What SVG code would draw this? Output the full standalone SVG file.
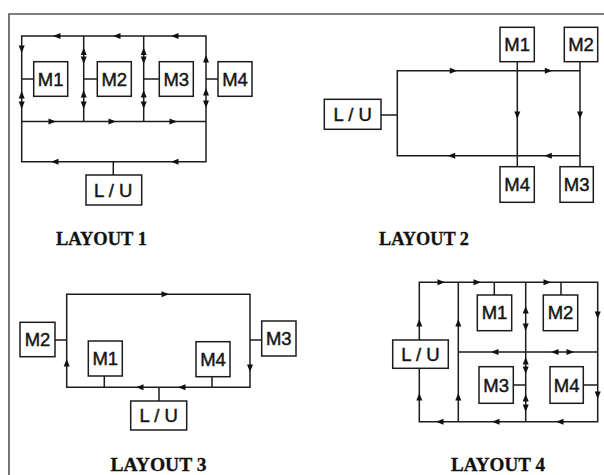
<svg xmlns="http://www.w3.org/2000/svg" xmlns:xlink="http://www.w3.org/1999/xlink" width="604" height="475" viewBox="0 0 604 475">
<style>
.ln{fill:none;stroke:#1c1c1c;stroke-width:1.5}
.bx{fill:#fff;stroke:#1c1c1c;stroke-width:1.5}
.t{font-family:"Liberation Sans",Arial,sans-serif;font-size:18.5px;fill:#151515;stroke:#151515;stroke-width:0.45;text-anchor:middle}
.cap{font-family:"Liberation Serif","Times New Roman",serif;font-size:19.5px;font-weight:bold;fill:#111;stroke:#111;stroke-width:0.3;text-anchor:middle}
.ar{fill:#111}
</style>
<defs>
<path id="a" d="M4,0 L-3.5,-3 L-3.5,3 Z"/>
</defs>
<rect width="604" height="475" fill="#fff"/>
<path d="M9,475 V14 H604" fill="none" stroke="#555" stroke-width="1.6"/>

<!-- LAYOUT 1 -->
<g id="connectors1">
<path class="ln" d="M21.7,36 H206 V161.7 H21.7 Z M21.7,121.5 H206 M83.7,36 V121.5 M143.7,36 V121.5 M21.7,79 H33.7 M83.7,79 H97.3 M143.7,79 H159.3 M206,79 H218 M113.3,161.7 V175"/>
<g class="ar">
<use xlink:href="#a" transform="translate(57,36) rotate(180)"/>
<use xlink:href="#a" transform="translate(117,36) rotate(180)"/>
<use xlink:href="#a" transform="translate(175,36) rotate(180)"/>
<use xlink:href="#a" transform="translate(52,121.5)"/>
<use xlink:href="#a" transform="translate(112,121.5)"/>
<use xlink:href="#a" transform="translate(173,121.5)"/>
<use xlink:href="#a" transform="translate(55,161.7) rotate(180)"/>
<use xlink:href="#a" transform="translate(175,161.7) rotate(180)"/>
<use xlink:href="#a" transform="translate(21.7,49) rotate(90)"/>
<use xlink:href="#a" transform="translate(21.7,95) rotate(-90)"/>
<use xlink:href="#a" transform="translate(21.7,105) rotate(90)"/>
<use xlink:href="#a" transform="translate(83.7,51.5) rotate(-90)"/>
<use xlink:href="#a" transform="translate(83.7,60) rotate(90)"/>
<use xlink:href="#a" transform="translate(83.7,94) rotate(-90)"/>
<use xlink:href="#a" transform="translate(83.7,105) rotate(90)"/>
<use xlink:href="#a" transform="translate(143.7,51.5) rotate(-90)"/>
<use xlink:href="#a" transform="translate(143.7,60) rotate(90)"/>
<use xlink:href="#a" transform="translate(143.7,94) rotate(-90)"/>
<use xlink:href="#a" transform="translate(143.7,105) rotate(90)"/>
<use xlink:href="#a" transform="translate(206,59) rotate(-90)"/>
<use xlink:href="#a" transform="translate(206,92) rotate(-90)"/>
<use xlink:href="#a" transform="translate(206,104) rotate(90)"/>
</g>
</g>
<g id="l1-m1"><rect class="bx" x="33.7" y="61.7" width="34" height="34.6"/><text class="t" x="50.7" y="85.6">M1</text></g>
<g id="l1-m2"><rect class="bx" x="97.3" y="61.7" width="34" height="34.6"/><text class="t" x="114.3" y="85.6">M2</text></g>
<g id="l1-m3"><rect class="bx" x="159.3" y="61.7" width="34" height="34.6"/><text class="t" x="176.3" y="85.6">M3</text></g>
<g id="l1-m4"><rect class="bx" x="218" y="61.7" width="34" height="34.6"/><text class="t" x="235" y="85.6">M4</text></g>
<g id="l1-lu"><rect class="bx" x="86" y="175" width="55.7" height="30"/><text class="t" x="113.3" y="196.6">L / U</text></g>
<text class="cap" x="101.5" y="245" textLength="91" lengthAdjust="spacingAndGlyphs">LAYOUT 1</text>

<!-- LAYOUT 2 -->
<g id="connectors2">
<path class="ln" d="M580,70.7 H397.3 V155.7 H580 M381,115 H397.3 M517.3,61.7 V166.7 M580,61.7 V166.7"/>
<g class="ar">
<use xlink:href="#a" transform="translate(453.3,70.7)"/>
<use xlink:href="#a" transform="translate(548.3,70.7)"/>
<use xlink:href="#a" transform="translate(451.7,155.7) rotate(180)"/>
<use xlink:href="#a" transform="translate(548.3,155.7) rotate(180)"/>
<use xlink:href="#a" transform="translate(517.3,115) rotate(90)"/>
<use xlink:href="#a" transform="translate(580,115) rotate(90)"/>
</g>
</g>
<g id="l2-m1"><rect class="bx" x="500" y="27.3" width="34.3" height="34.4"/><text class="t" x="517.2" y="51">M1</text></g>
<g id="l2-m2"><rect class="bx" x="564.3" y="27.3" width="33.4" height="34.4"/><text class="t" x="581" y="51">M2</text></g>
<g id="l2-m4"><rect class="bx" x="500" y="166.7" width="34.3" height="35.6"/><text class="t" x="517.2" y="191">M4</text></g>
<g id="l2-m3"><rect class="bx" x="560" y="166.7" width="33.3" height="35.6"/><text class="t" x="576.7" y="191">M3</text></g>
<g id="l2-lu"><rect class="bx" x="324.3" y="99.3" width="56.7" height="30"/><text class="t" x="352.7" y="121">L / U</text></g>
<text class="cap" x="424" y="245" textLength="90" lengthAdjust="spacingAndGlyphs">LAYOUT 2</text>

<!-- LAYOUT 3 -->
<g id="connectors3">
<path class="ln" d="M66.7,294.3 H250 V387.3 H66.7 Z M55,340 H66.7 M250,340 H261.7 M104.3,376 V387.3 M212,376.7 V387.3 M159,387.3 V401"/>
<g class="ar">
<use xlink:href="#a" transform="translate(165,294.3)"/>
<use xlink:href="#a" transform="translate(66.7,363) rotate(-90)"/>
<use xlink:href="#a" transform="translate(250,368) rotate(90)"/>
<use xlink:href="#a" transform="translate(140,387.3) rotate(180)"/>
<use xlink:href="#a" transform="translate(182,387.3) rotate(180)"/>
</g>
</g>
<g id="l3-m2"><rect class="bx" x="20" y="322.3" width="35" height="34.4"/><text class="t" x="37.5" y="346.1">M2</text></g>
<g id="l3-m3"><rect class="bx" x="261.7" y="321" width="34.3" height="35"/><text class="t" x="278.8" y="345.1">M3</text></g>
<g id="l3-m1"><rect class="bx" x="88.3" y="341" width="34" height="35"/><text class="t" x="105.3" y="365">M1</text></g>
<g id="l3-m4"><rect class="bx" x="196" y="341.7" width="34" height="35"/><text class="t" x="213" y="365.7">M4</text></g>
<g id="l3-lu"><rect class="bx" x="130.7" y="401" width="56" height="29"/><text class="t" x="158.7" y="422">L / U</text></g>
<text class="cap" x="158.5" y="471" textLength="96" lengthAdjust="spacingAndGlyphs">LAYOUT 3</text>

<!-- LAYOUT 4 -->
<g id="connectors4">
<path class="ln" d="M419.3,282.3 H597.7 V421.7 H419.3 Z M458.3,282.3 V421.7 M525.7,282.3 V421.7 M458.3,352 H597.7 M494.3,282.3 V295 M561,282.3 V295 M513.3,385 H525.7 M583.3,385 H597.7"/>
<g class="ar">
<use xlink:href="#a" transform="translate(441,282.3)"/>
<use xlink:href="#a" transform="translate(477,282.3)"/>
<use xlink:href="#a" transform="translate(547,282.3)"/>
<use xlink:href="#a" transform="translate(419.3,323) rotate(-90)"/>
<use xlink:href="#a" transform="translate(419.3,397) rotate(-90)"/>
<use xlink:href="#a" transform="translate(458.3,323) rotate(-90)"/>
<use xlink:href="#a" transform="translate(458.3,397) rotate(-90)"/>
<use xlink:href="#a" transform="translate(525.7,310) rotate(-90)"/>
<use xlink:href="#a" transform="translate(525.7,327) rotate(90)"/>
<use xlink:href="#a" transform="translate(525.7,361) rotate(-90)"/>
<use xlink:href="#a" transform="translate(525.7,370) rotate(90)"/>
<use xlink:href="#a" transform="translate(525.7,398) rotate(-90)"/>
<use xlink:href="#a" transform="translate(525.7,408) rotate(90)"/>
<use xlink:href="#a" transform="translate(597.7,315) rotate(90)"/>
<use xlink:href="#a" transform="translate(597.7,395) rotate(90)"/>
<use xlink:href="#a" transform="translate(495,352) rotate(180)"/>
<use xlink:href="#a" transform="translate(555,352) rotate(180)"/>
<use xlink:href="#a" transform="translate(570,352)"/>
<use xlink:href="#a" transform="translate(440,421.7) rotate(180)"/>
<use xlink:href="#a" transform="translate(496,421.7) rotate(180)"/>
<use xlink:href="#a" transform="translate(560,421.7) rotate(180)"/>
</g>
</g>
<g id="l4-lu"><rect class="bx" x="392.7" y="340" width="55.6" height="28.3"/><text class="t" x="420.5" y="360.8">L / U</text></g>
<g id="l4-m1"><rect class="bx" x="477.3" y="295" width="34.4" height="35.7"/><text class="t" x="494.5" y="319.4">M1</text></g>
<g id="l4-m2"><rect class="bx" x="543.3" y="295" width="34.4" height="35.7"/><text class="t" x="560.5" y="319.4">M2</text></g>
<g id="l4-m3"><rect class="bx" x="479" y="366.7" width="34.3" height="36.6"/><text class="t" x="496.1" y="391.6">M3</text></g>
<g id="l4-m4"><rect class="bx" x="550" y="366.7" width="33.3" height="36.6"/><text class="t" x="566.6" y="391.6">M4</text></g>
<text class="cap" x="498" y="471" textLength="94" lengthAdjust="spacingAndGlyphs">LAYOUT 4</text>
</svg>
